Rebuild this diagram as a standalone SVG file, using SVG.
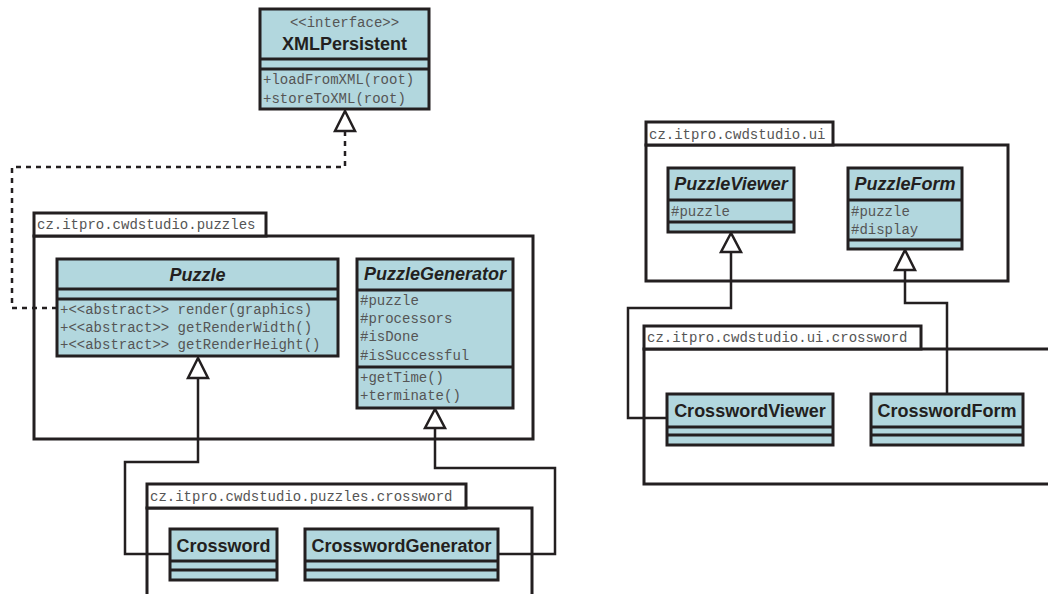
<svg xmlns="http://www.w3.org/2000/svg" width="1048" height="594" viewBox="0 0 1048 594">
<style>
.pkg{fill:none;stroke:#231f20;stroke-width:3}
.tab{fill:#fff;stroke:#231f20;stroke-width:3}
.cls{fill:#b2d7de;stroke:#231f20;stroke-width:3}
.sep{stroke:#231f20;stroke-width:3}
.name{font-family:"Liberation Sans",Arial,sans-serif;font-weight:bold;font-size:18px;fill:#231f20;text-anchor:middle}
.abs{font-style:italic}
.mem{font-family:"Liberation Mono","Courier New",monospace;font-size:14px;fill:#555}
.mid{text-anchor:middle}
.con{fill:none;stroke:#231f20;stroke-width:2.5}
.dash{stroke-dasharray:5 5}
.tri{fill:#fff;stroke:#231f20;stroke-width:2.5;stroke-linejoin:miter}
</style>
<rect width="1048" height="594" fill="#fff"/>

<g id="pkg-puzzles">
<rect class="pkg" x="34" y="236" width="499" height="203"/>
<rect class="tab" x="34" y="213" width="232" height="23"/>
<text class="mem" x="37" y="229">cz.itpro.cwdstudio.puzzles</text>
</g>
<g id="pkg-puzzles-crossword">
<rect class="pkg" x="147" y="508" width="385" height="110"/>
<rect class="tab" x="147" y="484" width="319" height="24"/>
<text class="mem" x="150" y="501">cz.itpro.cwdstudio.puzzles.crossword</text>
</g>
<g id="pkg-ui">
<rect class="pkg" x="646" y="145" width="362" height="136"/>
<rect class="tab" x="646" y="122" width="187" height="23"/>
<text class="mem" x="649" y="139">cz.itpro.cwdstudio.ui</text>
</g>
<g id="pkg-ui-crossword">
<rect class="pkg" x="644" y="349" width="430" height="135"/>
<rect class="tab" x="644" y="326" width="277" height="23"/>
<text class="mem" x="647" y="342">cz.itpro.cwdstudio.ui.crossword</text>
</g>

<g id="connectors">
<path class="con dash" d="M57,308 H12 V167 H345 V131"/>
<polygon class="tri" points="345,111 335,131 355,131"/>
<path class="con" d="M170,554 H125 V462 H198 V378"/>
<polygon class="tri" points="198,358 188,378 208,378"/>
<path class="con" d="M498,554 H555 V468 H435 V428"/>
<polygon class="tri" points="435,409 425,428 445,428"/>
<path class="con" d="M667,418 H628 V308 H731 V252"/>
<polygon class="tri" points="731,233 721,252 741,252"/>
<path class="con" d="M947,394 V303 H905 V270"/>
<polygon class="tri" points="905,250 895,270 915,270"/>
</g>

<g id="XMLPersistent">
<rect class="cls" x="260" y="9" width="169" height="100"/>
<line class="sep" x1="260" y1="59" x2="429" y2="59"/>
<line class="sep" x1="260" y1="69" x2="429" y2="69"/>
<text class="mem mid" x="344.5" y="27">&lt;&lt;interface&gt;&gt;</text>
<text class="name" x="344.5" y="49.5">XMLPersistent</text>
<text class="mem" x="263" y="84">+loadFromXML(root)</text>
<text class="mem" x="263" y="103">+storeToXML(root)</text>
</g>

<g id="Puzzle">
<rect class="cls" x="57" y="259" width="281" height="97"/>
<line class="sep" x1="57" y1="289" x2="338" y2="289"/>
<line class="sep" x1="57" y1="299" x2="338" y2="299"/>
<text class="name abs" x="197.5" y="280.5">Puzzle</text>
<text class="mem" x="60" y="314">+&lt;&lt;abstract&gt;&gt; render(graphics)</text>
<text class="mem" x="60" y="331.5">+&lt;&lt;abstract&gt;&gt; getRenderWidth()</text>
<text class="mem" x="60" y="349">+&lt;&lt;abstract&gt;&gt; getRenderHeight()</text>
</g>

<g id="PuzzleGenerator">
<rect class="cls" x="357" y="259" width="156" height="149"/>
<line class="sep" x1="357" y1="290" x2="513" y2="290"/>
<line class="sep" x1="357" y1="367" x2="513" y2="367"/>
<text class="name abs" x="435" y="279.5">PuzzleGenerator</text>
<text class="mem" x="360" y="305">#puzzle</text>
<text class="mem" x="360" y="323">#processors</text>
<text class="mem" x="360" y="341">#isDone</text>
<text class="mem" x="360" y="359.5">#isSuccessful</text>
<text class="mem" x="360" y="382">+getTime()</text>
<text class="mem" x="360" y="400">+terminate()</text>
</g>

<g id="Crossword">
<rect class="cls" x="170" y="529" width="107" height="51"/>
<line class="sep" x1="170" y1="561" x2="277" y2="561"/>
<line class="sep" x1="170" y1="570" x2="277" y2="570"/>
<text class="name" x="223.5" y="552">Crossword</text>
</g>

<g id="CrosswordGenerator">
<rect class="cls" x="305" y="529" width="193" height="51"/>
<line class="sep" x1="305" y1="561" x2="498" y2="561"/>
<line class="sep" x1="305" y1="570" x2="498" y2="570"/>
<text class="name" x="401.5" y="552">CrosswordGenerator</text>
</g>

<g id="PuzzleViewer">
<rect class="cls" x="668" y="168" width="126" height="64"/>
<line class="sep" x1="668" y1="200" x2="794" y2="200"/>
<line class="sep" x1="668" y1="222" x2="794" y2="222"/>
<text class="name abs" x="731" y="189.5">PuzzleViewer</text>
<text class="mem" x="671" y="215.5">#puzzle</text>
</g>

<g id="PuzzleForm">
<rect class="cls" x="848" y="168" width="114" height="81"/>
<line class="sep" x1="848" y1="200" x2="962" y2="200"/>
<line class="sep" x1="848" y1="240" x2="962" y2="240"/>
<text class="name abs" x="905" y="189.5">PuzzleForm</text>
<text class="mem" x="851" y="215.5">#puzzle</text>
<text class="mem" x="851" y="233.5">#display</text>
</g>

<g id="CrosswordViewer">
<rect class="cls" x="667" y="394" width="166" height="51"/>
<line class="sep" x1="667" y1="427" x2="833" y2="427"/>
<line class="sep" x1="667" y1="435" x2="833" y2="435"/>
<text class="name" x="750" y="416.5">CrosswordViewer</text>
</g>

<g id="CrosswordForm">
<rect class="cls" x="871" y="394" width="152" height="51"/>
<line class="sep" x1="871" y1="427" x2="1023" y2="427"/>
<line class="sep" x1="871" y1="435" x2="1023" y2="435"/>
<text class="name" x="947" y="416.5">CrosswordForm</text>
</g>
</svg>
